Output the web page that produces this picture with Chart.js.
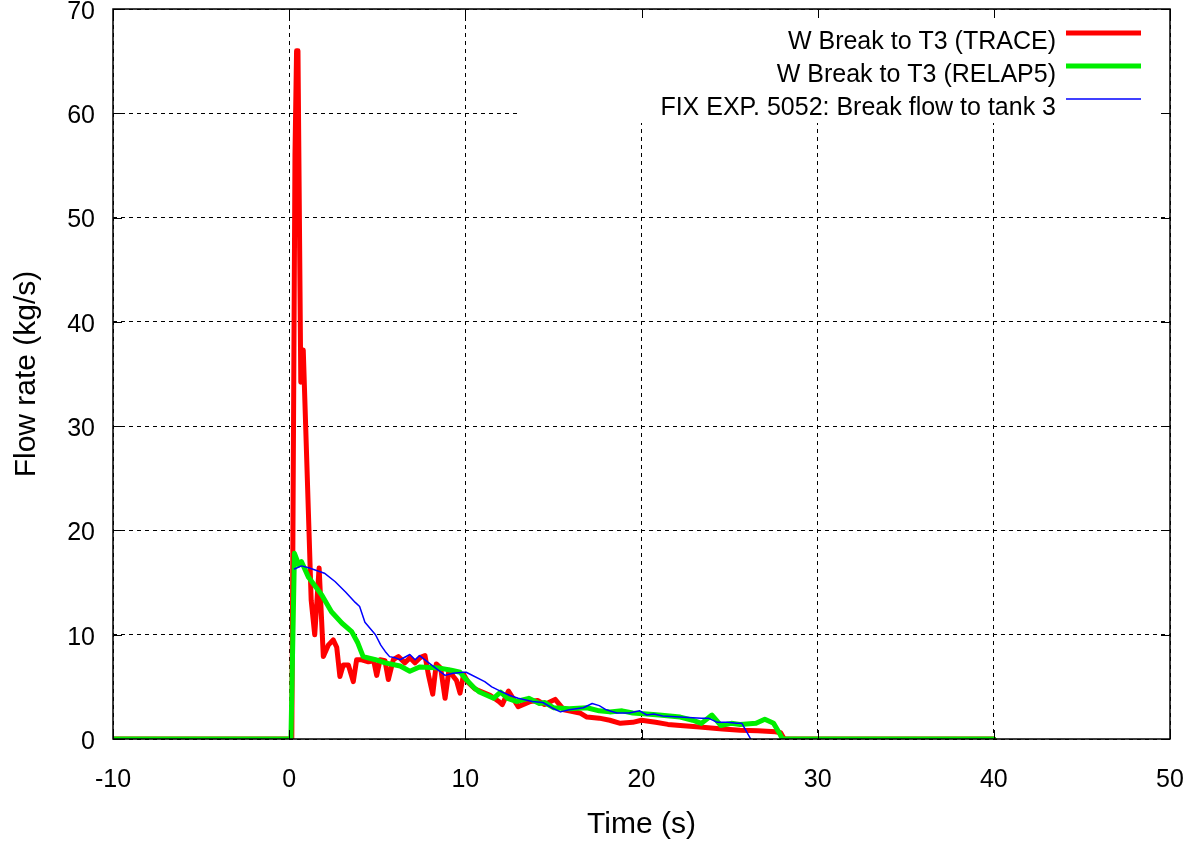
<!DOCTYPE html>
<html>
<head>
<meta charset="utf-8">
<script src="https://cdn.jsdelivr.net/npm/chart.js@4.4.1/dist/chart.umd.min.js"></script>
<style>
  html, body { margin: 0; padding: 0; background: #fff; }
  #wrap { width: 1197px; height: 843px; }
</style>
</head>
<body>
<div id="wrap"><canvas id="c" width="1197" height="843"></canvas></div>
<script>
// Break flow to tank 3: two code calculations and the FIX experiment 5052
const seriesLabels = [
  'W Break to T3 (TRACE)',
  'W Break to T3 (RELAP5)',
  'FIX EXP. 5052: Break flow to tank 3'
];
const seriesColors = ['#ff0000', '#00ee00', '#0000ff'];

const traceTime = [-10, 0.15, 0.33, 0.42, 0.5, 0.66, 0.8, 1.25, 1.45, 1.7, 1.94, 2.22, 2.5, 2.7, 2.88, 3.07, 3.36, 3.64, 3.83, 4.12, 4.5, 4.8, 4.97, 5.16, 5.44, 5.63, 5.91, 6.2, 6.57, 6.86, 7.14, 7.43, 7.71, 7.9, 8.15, 8.35, 8.6, 8.85, 9.07, 9.32, 9.5, 9.7, 9.9, 10.17, 10.55, 11.4, 11.9, 12.1, 12.45, 13.0, 13.7, 14.1, 14.5, 15.1, 15.6, 16.5, 16.9, 17.6, 18.2, 18.8, 19.5, 20.0, 20.8, 21.5, 22.2, 23.3, 24.6, 25.6, 26.6, 27.6, 27.9, 28.1, 40];
const traceFlow = [0, 0, 56, 66, 66, 34.2, 37.3, 13.3, 10, 16.4, 7.9, 9.0, 9.5, 8.8, 6.0, 7.1, 7.1, 5.5, 7.6, 7.6, 7.4, 7.5, 6.1, 7.6, 7.5, 5.7, 7.6, 7.9, 7.3, 7.8, 7.3, 7.8, 8.0, 6.2, 4.3, 7.2, 6.8, 3.9, 6.6, 6.0, 5.6, 4.4, 6.2, 5.4, 4.8, 4.2, 3.6, 3.3, 4.6, 3.1, 3.6, 3.7, 3.3, 3.8, 2.8, 2.5, 2.1, 2.0, 1.8, 1.5, 1.6, 1.8, 1.6, 1.4, 1.3, 1.15, 0.95, 0.85, 0.8, 0.7, 0.6, 0, 0];

const relapTime = [-10, 0.1, 0.3, 0.55, 0.7, 1.1, 1.85, 2.4, 3.0, 3.55, 3.9, 4.2, 4.9, 5.45, 6.3, 6.85, 7.4, 8.55, 9.2, 9.7, 10.05, 10.5, 10.8, 11.6, 12.0, 12.4, 12.9, 13.6, 14.2, 14.5, 15.0, 15.9, 16.9, 17.6, 18.2, 18.9, 19.5, 20.3, 21.0, 22.2, 22.9, 23.4, 24.0, 24.5, 25.1, 25.6, 26.5, 27.0, 27.5, 27.85, 28.0, 40];
const relapFlow = [0, 0, 17.8, 16.7, 17.0, 15.5, 13.8, 12.2, 11.1, 10.3, 9.2, 7.9, 7.6, 7.3, 7.0, 6.5, 6.9, 6.8, 6.6, 6.4, 5.7, 4.9, 4.5, 3.9, 4.5, 3.9, 3.6, 3.9, 3.4, 3.5, 3.0, 2.9, 3.0, 2.7, 2.6, 2.7, 2.5, 2.4, 2.3, 2.1, 1.8, 1.5, 2.3, 1.3, 1.5, 1.4, 1.5, 1.9, 1.5, 0.5, 0, 0];

const expTime = [0.3, 0.7, 1.15, 2.0, 2.6, 3.2, 3.75, 4.0, 4.3, 4.6, 4.9, 5.2, 5.45, 5.7, 6.0, 6.3, 6.85, 7.15, 7.4, 8.0, 8.85, 9.3, 9.9, 10.05, 11.1, 11.5, 12.1, 12.5, 13.0, 13.8, 14.4, 14.9, 15.4, 15.9, 16.7, 17.2, 17.6, 18.0, 18.6, 19.3, 19.9, 20.3, 20.7, 21.2, 23.4, 23.8, 24.3, 24.9, 25.4, 25.7, 26.2];
const expFlow = [16.3, 16.6, 16.4, 15.9, 15.1, 14.1, 13.1, 12.7, 11.2, 10.6, 10.0, 9.0, 8.4, 7.9, 7.8, 7.6, 8.1, 7.6, 8.0, 7.2, 6.1, 6.3, 6.4, 6.4, 5.5, 5.0, 4.5, 4.2, 3.9, 3.6, 3.5, 3.0, 2.6, 2.8, 3.0, 3.4, 3.2, 2.8, 2.5, 2.5, 2.7, 2.3, 2.4, 2.2, 2.0, 2.0, 1.6, 1.6, 1.5, 1.5, 0];

const xTitle = 'Time (s)';
const yTitle = 'Flow rate (kg/s)';
const xRange = [-10, 50, 10];
const yRange = [0, 70, 10];

const FONT = "'Liberation Sans', Arial, sans-serif";
Chart.defaults.font.family = FONT;
Chart.defaults.color = '#000';

const toPoints = (xs, ys) => xs.map((x, i) => ({ x: x, y: ys[i] }));

function series(idx, xs, ys, width, order) {
  return {
    label: seriesLabels[idx],
    data: toPoints(xs, ys),
    borderColor: seriesColors[idx],
    backgroundColor: seriesColors[idx],
    borderWidth: width,
    pointRadius: 0,
    showLine: true,
    tension: 0,
    fill: false,
    borderJoinStyle: 'round',
    borderCapStyle: 'round',
    order: order
  };
}

// Frame, inward tick marks and a boxed key in the top right of the plot
const framePlugin = {
  id: 'gnuFrame',
  beforeDatasetsDraw(chart) {
    const ctx = chart.ctx;
    ctx.save();
    ctx.fillStyle = '#fff';
    ctx.fillRect(517, chart.chartArea.top + 1, 641, 113);
    ctx.restore();
  },
  afterDatasetsDraw(chart) {
    const { ctx, chartArea: a, scales } = chart;
    ctx.save();
    ctx.strokeStyle = '#000';
    ctx.lineWidth = 1.5;
    ctx.setLineDash([]);
    ctx.strokeRect(a.left, a.top, a.right - a.left, a.bottom - a.top);
    ctx.lineWidth = 1;
    const tl = 9;
    ctx.beginPath();
    scales.x.ticks.forEach(t => {
      const px = Math.round(scales.x.getPixelForValue(t.value)) + 0.5;
      ctx.moveTo(px, a.bottom); ctx.lineTo(px, a.bottom - tl);
      ctx.moveTo(px, a.top); ctx.lineTo(px, a.top + tl);
    });
    scales.y.ticks.forEach(t => {
      const py = Math.round(scales.y.getPixelForValue(t.value)) + 0.5;
      ctx.moveTo(a.left, py); ctx.lineTo(a.left + tl, py);
      ctx.moveTo(a.right, py); ctx.lineTo(a.right - tl, py);
    });
    ctx.stroke();

    // key
    ctx.font = '25px ' + FONT;
    ctx.textAlign = 'right';
    ctx.textBaseline = 'middle';
    ctx.fillStyle = '#000';
    chart.data.datasets.forEach((ds, i) => {
      const ty = 42 + 33 * i;
      const ly = 33 + 33 * i;
      ctx.fillText(ds.label, 1056, ty);
      ctx.beginPath();
      ctx.strokeStyle = ds.borderColor;
      ctx.lineWidth = ds.borderWidth;
      ctx.lineCap = 'butt';
      ctx.moveTo(1066, ly); ctx.lineTo(1141, ly);
      ctx.stroke();
    });
    ctx.restore();
  }
};

new Chart(document.getElementById('c'), {
  type: 'scatter',
  data: {
    datasets: [
      series(0, traceTime, traceFlow, 5, 3),
      series(1, relapTime, relapFlow, 5, 2),
      series(2, expTime, expFlow, 1.5, 1)
    ]
  },
  options: {
    responsive: false,
    animation: false,
    devicePixelRatio: 1,
    layout: { padding: { top: 9, right: 27, left: 0, bottom: 0 } },
    plugins: { legend: { display: false }, tooltip: { enabled: false } },
    scales: {
      x: {
        type: 'linear',
        min: xRange[0], max: xRange[1],
        ticks: { stepSize: xRange[2], padding: 26, font: { size: 25 }, color: '#000', maxRotation: 0 },
        grid: { color: '#000', lineWidth: 1, drawTicks: false },
        border: { display: false, dash: [4, 4] },
        title: { display: true, text: xTitle, font: { size: 30, lineHeight: 1.2 }, color: '#000', padding: { top: 0, bottom: 0 } },
        afterFit(s) { s.height = 104; s.paddingLeft = 0; s.paddingRight = 0; }
      },
      y: {
        type: 'linear',
        min: yRange[0], max: yRange[1],
        ticks: { stepSize: yRange[2], padding: 18, labelOffset: 3, font: { size: 25 }, color: '#000' },
        grid: { color: '#000', lineWidth: 1, drawTicks: false },
        border: { display: false, dash: [4, 4] },
        title: { display: true, text: yTitle, font: { size: 30, lineHeight: 1.2 }, color: '#000', padding: { top: 9, bottom: 0 } },
        afterFit(s) { s.width = 113; s.paddingTop = 0; s.paddingBottom = 0; }
      }
    }
  },
  plugins: [framePlugin]
});
</script>
</body>
</html>
